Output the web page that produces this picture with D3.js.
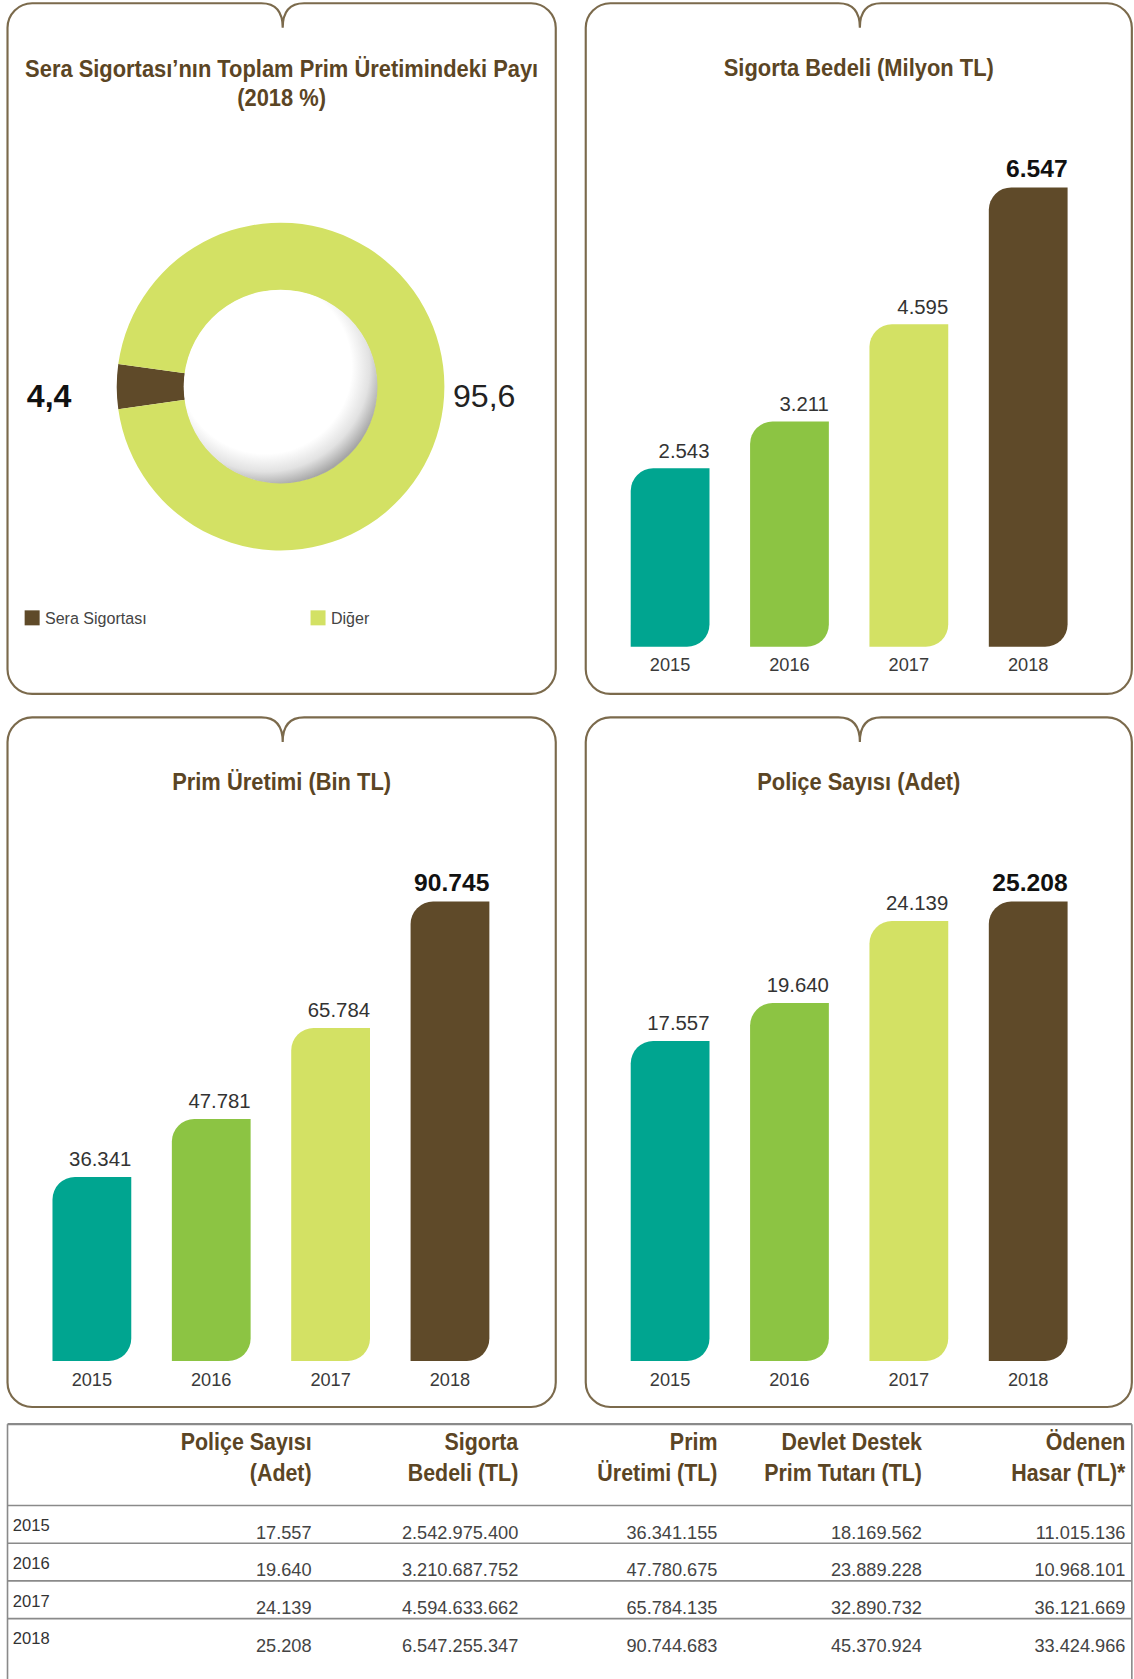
<!DOCTYPE html>
<html lang="tr">
<head>
<meta charset="utf-8">
<title>Sera Sigortası</title>
<script src="https://cdn.jsdelivr.net/npm/d3@7"></script>
<style>
  html, body { margin: 0; padding: 0; background: #ffffff; }
  svg { display: block; }
  text { font-family: "Liberation Sans", Arial, Helvetica, sans-serif; }
</style>
</head>
<body>
<svg id="chart"></svg>
<script>
// ---- data ----
const years = ["2015", "2016", "2017", "2018"];

const shareCategories = ["Sera Sigortası", "Diğer"];
const shareValues = [4.4, 95.6];           // % of total premium production, 2018

const sigortaBedeliMilyonTL = [2543, 3211, 4595, 6547];
const primUretimiBinTL = [36341, 47781, 65784, 90745];
const policeSayisiAdet = [17557, 19640, 24139, 25208];

const tableHeaders = [
  ["Poliçe Sayısı", "(Adet)"],
  ["Sigorta", "Bedeli (TL)"],
  ["Prim", "Üretimi (TL)"],
  ["Devlet Destek", "Prim Tutarı (TL)"],
  ["Ödenen", "Hasar (TL)*"]
];
const tablePoliceAdet = [17557, 19640, 24139, 25208];
const tableSigortaBedeliTL = [2542975400, 3210687752, 4594633662, 6547255347];
const tablePrimUretimiTL = [36341155, 47780675, 65784135, 90744683];
const tableDevletDestekTL = [18169562, 23889228, 32890732, 45370924];
const tableOdenenHasarTL = [11015136, 10968101, 36121669, 33424966];

// ---- styling ----
const yearColors = ["#00a590", "#8cc443", "#d3e164", "#5f4a29"];
const shareColors = ["#5f4a29", "#d3e164"];
const titleColor = "#5b4524";
const frameColor = "#7b6a4c";

const tr = d3.formatLocale({ decimal: ",", thousands: ".", grouping: [3], currency: ["", ""] });
const fmtInt = tr.format(",d");
const fmtPct = tr.format(",.1f");

// design space, scaled to the window
const W = 1059, H = 1568;
const svg = d3.select("#chart")
  .attr("width", 1134).attr("height", 1679)
  .attr("viewBox", `0 0 ${W} ${H}`);

// condensed bold heading text
function heading(g, txt, x, y, anchor, size) {
  return g.append("text")
    .attr("transform", `translate(${x},${y}) scale(0.93,1)`)
    .attr("text-anchor", anchor)
    .attr("font-weight", "bold")
    .attr("font-size", size)
    .attr("fill", titleColor)
    .text(txt);
}

// rounded frame with a small cusp in the middle of the top edge
function framePath(x0, y0, x1, y1) {
  const r = 23, nx = (x0 + x1) / 2 + 1, nw = 20, nd = 23;
  return [
    `M${x0},${y0 + r}`,
    `A${r},${r} 0 0 1 ${x0 + r},${y0}`,
    `L${nx - nw},${y0}`,
    `Q${nx},${y0} ${nx},${y0 + nd}`,
    `Q${nx},${y0} ${nx + nw},${y0}`,
    `L${x1 - r},${y0}`,
    `A${r},${r} 0 0 1 ${x1},${y0 + r}`,
    `L${x1},${y1 - r}`,
    `A${r},${r} 0 0 1 ${x1 - r},${y1}`,
    `L${x0 + r},${y1}`,
    `A${r},${r} 0 0 1 ${x0},${y1 - r}`,
    "Z"
  ].join(" ");
}

const panels = [
  { x0: 7, y0: 3, x1: 519, y1: 648 },
  { x0: 547, y0: 3, x1: 1057, y1: 648 },
  { x0: 7, y0: 670, x1: 519, y1: 1314 },
  { x0: 547, y0: 670, x1: 1057, y1: 1314 }
];

svg.selectAll("path.frame").data(panels).join("path")
  .attr("class", "frame")
  .attr("d", p => framePath(p.x0, p.y0, p.x1, p.y1))
  .attr("fill", "none")
  .attr("stroke", frameColor)
  .attr("stroke-width", 2);

// ---- donut: share of total premium production ----
(function () {
  const p = panels[0];
  const g = svg.append("g");
  const cx = (p.x0 + p.x1) / 2 - 1, cy = 361;
  const R = 153, r = 90;

  heading(g, "Sera Sigortası’nın Toplam Prim Üretimindeki Payı", (p.x0 + p.x1) / 2, p.y0 + 69, "middle", 22);
  heading(g, "(2018 %)", (p.x0 + p.x1) / 2, p.y0 + 96, "middle", 22);

  const data = shareCategories.map((c, i) => ({ c, v: shareValues[i], color: shareColors[i] }));
  const total = d3.sum(shareValues);
  const a0 = 1.5 * Math.PI - (shareValues[0] / total) * Math.PI; // small slice centred at 9 o'clock
  const pie = d3.pie().sort(null).value(d => d.v).startAngle(a0).endAngle(a0 + 2 * Math.PI);
  const arc = d3.arc().innerRadius(r).outerRadius(R);

  const defs = svg.append("defs");
  const grad = defs.append("radialGradient").attr("id", "sphere")
    .attr("cx", 0.42).attr("cy", 0.40).attr("r", 0.62).attr("fx", 0.42).attr("fy", 0.40);
  grad.append("stop").attr("offset", 0).attr("stop-color", "#ffffff");
  grad.append("stop").attr("offset", 0.72).attr("stop-color", "#ffffff");
  grad.append("stop").attr("offset", 0.87).attr("stop-color", "#e2e2e2");
  grad.append("stop").attr("offset", 1).attr("stop-color", "#a6a6a6");

  const dg = g.append("g").attr("transform", `translate(${cx},${cy})`);
  dg.selectAll("path").data(pie(data)).join("path")
    .attr("d", arc)
    .attr("fill", d => d.data.color);
  dg.append("circle").attr("r", r + 0.5).attr("fill", "url(#sphere)");

  g.append("text")
    .attr("x", 25).attr("y", 380)
    .attr("font-size", 30).attr("font-weight", "bold").attr("fill", "#111")
    .text(fmtPct(shareValues[0]));
  g.append("text")
    .attr("x", cx + R + 8).attr("y", 380)
    .attr("font-size", 30).attr("fill", "#222")
    .text(fmtPct(shareValues[1]));

  // legend
  const legX = [23, 290];
  const lg = g.selectAll("g.leg").data(data).join("g")
    .attr("class", "leg")
    .attr("transform", (d, i) => `translate(${legX[i]},570)`);
  lg.append("rect").attr("width", 14).attr("height", 14).attr("fill", d => d.color);
  lg.append("text").attr("x", 19).attr("y", 13)
    .attr("font-size", 15).attr("fill", "#444")
    .text(d => d.c);
})();

// ---- bar charts ----
function barShape(x, y, w, base, rr) {
  const r = Math.min(rr, (base - y) / 2);
  return `M${x},${base} L${x},${y + r} A${r},${r} 0 0 1 ${x + r},${y} L${x + w},${y} ` +
         `L${x + w},${base - r} A${r},${r} 0 0 1 ${x + w - r},${base} Z`;
}

function barPanel(p, title, values) {
  const g = svg.append("g");
  heading(g, title, (p.x0 + p.x1) / 2, p.y0 + 68, "middle", 22);

  const base = p.y0 + 601, top = p.y0 + 172;
  const x = d3.scaleBand().domain(years).range([p.x0 + 42, p.x0 + 450]).paddingInner(0.34).paddingOuter(0);
  const y = d3.scaleLinear().domain([0, d3.max(values)]).range([base, top]);
  const rows = years.map((yr, i) => ({ yr, v: values[i], color: yearColors[i], last: i === years.length - 1 }));

  g.selectAll("path.bar").data(rows).join("path")
    .attr("class", "bar")
    .attr("d", d => barShape(x(d.yr), y(d.v), x.bandwidth(), base, 21))
    .attr("fill", d => d.color);

  g.selectAll("text.val").data(rows).join("text")
    .attr("class", "val")
    .attr("x", d => x(d.yr) + x.bandwidth())
    .attr("y", d => y(d.v) - 10)
    .attr("text-anchor", "end")
    .attr("font-size", d => d.last ? 23 : 19)
    .attr("font-weight", d => d.last ? "bold" : "normal")
    .attr("fill", d => d.last ? "#111" : "#333")
    .text(d => fmtInt(d.v));

  const axis = d3.axisBottom(x).tickSize(0).tickPadding(0);
  const ag = g.append("g").attr("transform", `translate(0,${base})`).call(axis);
  ag.select(".domain").remove();
  ag.selectAll("text")
    .attr("y", 23).attr("dy", 0)
    .attr("font-size", 17)
    .attr("font-family", "Liberation Sans, Arial, sans-serif")
    .attr("fill", "#3a3a3a");
}

barPanel(panels[1], "Sigorta Bedeli (Milyon TL)", sigortaBedeliMilyonTL);
barPanel(panels[2], "Prim Üretimi (Bin TL)", primUretimiBinTL);
barPanel(panels[3], "Poliçe Sayısı (Adet)", policeSayisiAdet);

// ---- table ----
(function () {
  const g = svg.append("g");
  const left = 7, right = 1057, topY = 1330, headBottom = 1406, rowH = 35.2;
  const colRight = [291, 484, 670, 861, 1051];
  const columns = [tablePoliceAdet, tableSigortaBedeliTL, tablePrimUretimiTL, tableDevletDestekTL, tableOdenenHasarTL];

  g.append("line").attr("x1", left).attr("x2", right).attr("y1", topY).attr("y2", topY)
    .attr("stroke", "#8a8a8a").attr("stroke-width", 2.2);
  g.append("line").attr("x1", left).attr("x2", left).attr("y1", topY).attr("y2", H)
    .attr("stroke", "#8a8a8a").attr("stroke-width", 1.5);
  g.append("line").attr("x1", right).attr("x2", right).attr("y1", topY).attr("y2", H)
    .attr("stroke", "#8a8a8a").attr("stroke-width", 1.5);

  tableHeaders.forEach((lines, c) => {
    lines.forEach((t, k) => heading(g, t, colRight[c], 1354 + k * 29.5, "end", 21.5));
  });

  const rowTops = years.map((yr, i) => headBottom + i * rowH);
  g.selectAll("line.row").data(rowTops).join("line")
    .attr("class", "row")
    .attr("x1", left).attr("x2", right)
    .attr("y1", d => d).attr("y2", d => d)
    .attr("stroke", "#8a8a8a").attr("stroke-width", 1.5);

  g.selectAll("text.yr").data(years).join("text")
    .attr("class", "yr")
    .attr("x", 12).attr("y", (d, i) => rowTops[i] + 24)
    .attr("font-size", 15.5).attr("fill", "#333")
    .text(d => d);

  columns.forEach((vals, c) => {
    g.selectAll(`text.c${c}`).data(vals).join("text")
      .attr("class", `c${c}`)
      .attr("x", colRight[c]).attr("y", (d, i) => rowTops[i] + 31)
      .attr("text-anchor", "end")
      .attr("font-size", 17).attr("fill", "#444")
      .text(d => fmtInt(d));
  });
})();
</script>
</body>
</html>
